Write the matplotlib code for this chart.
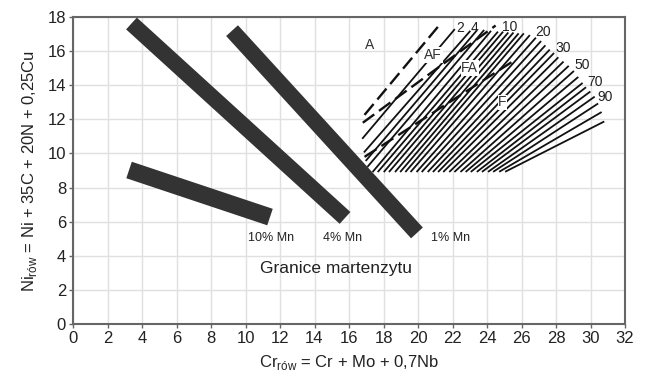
import matplotlib
matplotlib.use('Agg')
import matplotlib.pyplot as plt

plt.rcParams['font.family'] = ['Liberation Sans', 'DejaVu Sans']

# martensite limit bands: centre line ends (x, y) and labels
band_names = ['10% Mn', '4% Mn', '1% Mn']
band_x0 = [3.25, 3.39, 9.22]
band_y0 = [9.03, 17.62, 17.2]
band_x1 = [11.42, 15.77, 19.94]
band_y1 = [6.27, 6.22, 5.34]
band_label_x = [11.48, 15.6, 21.86]
band_label_y = [5.04, 5.04, 5.04]

# ferrite number lines, start and end points
fn_x0 = [16.8, 16.9, 17.0, 17.1, 17.4, 17.7, 18.05, 18.35, 18.7, 19.0, 19.3, 19.6, 19.95,
         20.25, 20.6, 20.9, 21.2, 21.5, 21.85, 22.15, 22.5, 22.8, 23.1, 23.45, 23.75,
         24.1, 24.4, 24.75, 25.1]
fn_y0 = [10.9, 10.1, 9.6, 9.25] + [8.95] * 25
fn_x1 = [22.1, 23.0, 23.4, 23.8, 24.2, 24.6, 24.9, 25.2, 25.5, 25.8, 26.1, 26.45, 26.8,
         27.1, 27.35, 27.6, 27.85, 28.1, 28.4, 28.7, 29.0, 29.25, 29.5, 29.7, 29.95,
         30.2, 30.4, 30.6, 30.75]
fn_y1 = [17.25, 17.15, 17.2, 17.2, 17.15, 17.1, 17.1, 17.05, 17.05, 17.0, 17.0, 16.9, 16.75,
         16.55, 16.3, 16.05, 15.85, 15.6, 15.35, 15.1, 14.8, 14.45, 14.1, 13.85, 13.6,
         13.3, 12.9, 12.4, 11.85]

# phase boundaries (dashed)
bd_x0 = [16.9, 16.8, 16.9]
bd_y0 = [12.26, 11.8, 9.8]
bd_x1 = [21.25, 24.5, 25.5]
bd_y1 = [17.54, 17.5, 15.4]

phase_names = ['A', 'AF', 'FA', 'F']
phase_x = [17.2, 20.87, 23.0, 24.9]
phase_y = [16.36, 15.78, 15.0, 13.0]

fn_names = ['2', '4', '10', '20', '30', '50', '70', '90']
fn_label_x = [22.43, 23.3, 25.33, 27.25, 28.4, 29.5, 30.26, 30.84]
fn_label_y = [17.36, 17.36, 17.42, 17.13, 16.2, 15.2, 14.2, 13.3]

fig = plt.figure(figsize=(6.48, 3.79), dpi=100)
ax = fig.add_axes([73 / 648, 1 - 324 / 379, 552 / 648, 307 / 379])

ax.set_xlim(0, 32)
ax.set_ylim(0, 18)
ax.set_xticks(range(0, 33, 2))
ax.set_yticks(range(0, 19, 2))
ax.grid(True, color='#e0e0e0', linewidth=1.0)
ax.set_axisbelow(True)
for s in ax.spines.values():
    s.set_color('#666666')
    s.set_linewidth(1.5)
ax.tick_params(direction='out', length=3, width=1, color='#666666',
               labelsize=12, labelcolor='#222222', pad=2)

# bands
widths = [12.5, 11.5, 11.5]
for i in range(len(band_names)):
    ax.plot([band_x0[i], band_x1[i]], [band_y0[i], band_y1[i]], color='#333333',
            linewidth=widths[i], solid_capstyle='butt', zorder=3)
    ax.text(band_label_x[i], band_label_y[i], band_names[i], fontsize=9,
            ha='center', va='center', color='#222222')

ax.text(15.25, 3.28, 'Granice martenzytu', fontsize=12.5, ha='center', va='center',
        color='#222222')

# ferrite number fan
for i in range(len(fn_x0)):
    ax.plot([fn_x0[i], fn_x1[i]], [fn_y0[i], fn_y1[i]], color='#111111', linewidth=1.3,
            zorder=4)

for i in range(len(bd_x0)):
    ax.plot([bd_x0[i], bd_x1[i]], [bd_y0[i], bd_y1[i]], color='#111111', linewidth=1.7,
            dashes=(6, 2.5), zorder=5)

for i in range(len(phase_names)):
    box = None
    if i > 0:
        box = dict(facecolor='white', edgecolor='none', pad=0.5)
    ax.text(phase_x[i], phase_y[i], phase_names[i], fontsize=10, ha='center', va='center',
            color='#333333', zorder=6, bbox=box)

for i in range(len(fn_names)):
    ax.text(fn_label_x[i], fn_label_y[i], fn_names[i], fontsize=10, ha='center',
            va='center', color='#222222', zorder=6)

ax.set_xlabel(r'Cr$_{\mathregular{rów}}$ = Cr + Mo + 0,7Nb', fontsize=12, color='#222222',
              labelpad=5)
ax.set_ylabel(r'Ni$_{\mathregular{rów}}$ = Ni + 35C + 20N + 0,25Cu', fontsize=12,
              color='#222222', labelpad=6)

fig.savefig('out.png', dpi=100)
